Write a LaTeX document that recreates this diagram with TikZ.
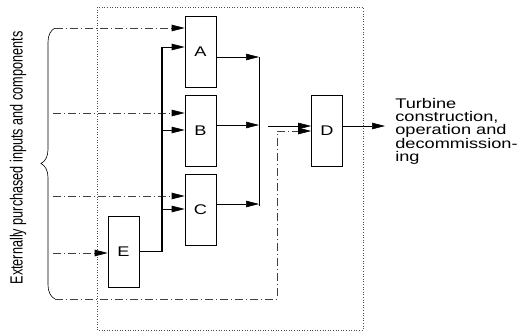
\documentclass[tikz,border=0pt]{standalone}
\usepackage{fontspec}
\setmainfont{Liberation Sans}
\newfontfamily\widefont{Liberation Sans}[FakeStretch=1.3]
\newfontfamily\tallfont{Liberation Sans}[FakeStretch=0.72]
\usetikzlibrary{arrows.meta,decorations.pathreplacing}

\begin{document}
\begin{tikzpicture}[x=1pt, y=-1pt, line width=0.6pt,
    blk/.style={draw, minimum width=31pt, minimum height=71pt, inner sep=0pt,
        font=\widefont\fontsize{14}{13.25}\selectfont},
    flow/.style={-{Triangle[length=13pt,width=6.5pt,color=black]}},
    ext/.style={dash pattern=on 8pt off 3pt on 1pt off 3pt, draw=black!75}]
    \useasboundingbox (0,0) rectangle (519,332);
    % boundary
    \draw[dotted, black!70] (97,7) rectangle (363,330);
    % processes
    \node[blk] (A) at (200.5,51.5) {A};
    \node[blk] (B) at (200.5,131) {B};
    \node[blk] (C) at (200.5,209.5) {C};
    \node[blk] (E) at (123.5,251.5) {E};
    \node[blk] (D) at (327,130.5) {D};
    % purchased inputs
    \coordinate (inA) at (55,28);
    \coordinate (inB) at (53,113);
    \coordinate (inC) at (53,196);
    \coordinate (inE) at (53,253);
    \coordinate (inD) at (55,299);
    \draw[decorate, decoration={brace, amplitude=14pt}] (inD) -- (inA);
    \node[rotate=90, font=\tallfont\fontsize{17.6}{17}\selectfont] (lbl) at (18,158)
        {Externally purchased inputs and components};
    \draw[ext, flow] (inA) -- (inA -| A.west);
    \draw[ext, flow] (inB) -- (inB -| B.west);
    \draw[ext, flow] (inC) -- (inC -| C.west);
    \draw[ext, flow] (inE) -- (inE -| E.west);
    % E supplies A, B and C
    \coordinate (eA) at (162,47);
    \coordinate (eB) at (162,130);
    \coordinate (eC) at (162,209);
    \draw[line width=1.1pt] (E.east) -| (eA);
    \draw[flow] (eA) -- (eA -| A.west);
    \draw[flow] (eB) -- (eB -| B.west);
    \draw[flow] (eC) -- (eC -| C.west);
    % collecting line
    \coordinate (busA) at (259,57);
    \coordinate (busB) at (259,125);
    \coordinate (busC) at (259,204);
    \coordinate (busend) at (259,206);
    \draw[flow] (busA -| A.east) -- (busA);
    \draw[flow] (busB -| B.east) -- (busB);
    \draw[flow] (busC -| C.east) -- (busC);
    \draw (busA) -- (busend);
    \coordinate (mix) at (268,126);
    \draw[flow] (mix) -- (mix -| D.west);
    \coordinate (back) at (277,131);
    \draw[ext, flow] (inD) -| (back) -- (back -| D.west);
    % result
    \coordinate (out) at (385,126);
    \draw[flow] (out -| D.east) -- (out);
    \node[anchor=north west, inner sep=0pt, align=left,
        font=\widefont\fontsize{14}{13.25}\selectfont] (res) at (395,98)
        {Turbine\\construction,\\operation and\\decommission-\\ing};
\end{tikzpicture}
\end{document}
